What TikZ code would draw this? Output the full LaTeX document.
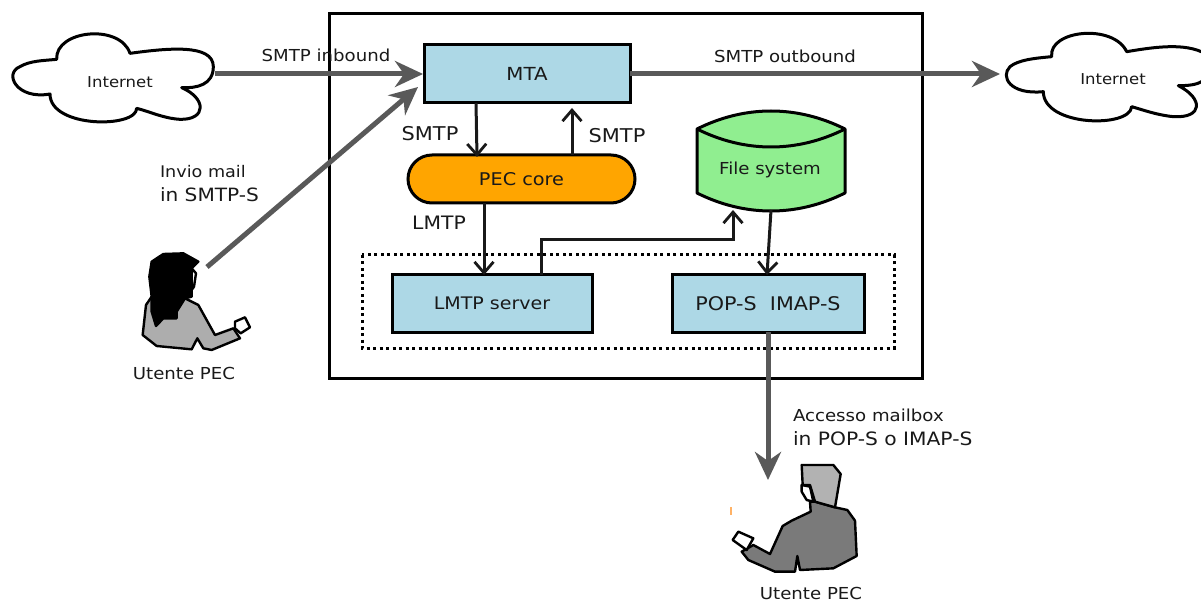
\documentclass[tikz,border=0pt]{standalone}
\usepackage{fontspec}
\setmainfont[FakeStretch=1.1]{DejaVu Sans}
\usetikzlibrary{arrows.meta,calc}
\definecolor{boxblue}{HTML}{ADD8E6}
\definecolor{coreorange}{HTML}{FFA500}
\definecolor{fsgreen}{HTML}{90EE90}
\definecolor{arrowgray}{HTML}{595959}
\newcommand{\labelsize}[1]{\fontsize{#1}{24}\selectfont}
\tikzset{
  x=1pt,y=-1pt,
  every node/.style={inner sep=0pt,outer sep=0pt,font=\fontsize{16.5}{24}\selectfont,text=black!90},
  bluebox/.style={draw=black,line width=3pt,fill=boxblue,minimum height=58,anchor=north west},
  thickflow/.style={draw=arrowgray,line width=5pt,-{Stealth[length=28pt,width=26pt,inset=9pt]}},
  thinflow/.style={draw=black!90,line width=3pt,-{Straight Barb[length=11pt,width=19pt,line width=2.8pt]}},
  outline/.style={draw=black,line width=3pt,line join=round},
  figure/.style={draw=black,line width=2.4pt,line join=round,scale=1/3}
}
\begin{document}
\begin{tikzpicture}
\useasboundingbox (0,0) rectangle (1201,601);
\fill[white] (0,0) rectangle (1201,601);
% frames
\draw[line width=3pt] (329,14) rectangle (922,378);
\draw[line width=3pt,dash pattern=on 3pt off 3.5pt] (362,255) rectangle (894,348);
% clouds
\begin{scope}[shift={(0,20)},scale=1/3]
\draw[outline,fill=white] (170,118) .. controls (165,30) and (360,10) .. (390,100)
  .. controls (500,85) and (640,70) .. (640,140) .. controls (640,195) and (590,205) .. (545,203)
  .. controls (620,235) and (620,300) .. (540,298) .. controls (490,295) and (450,275) .. (410,265)
  .. controls (410,325) and (150,325) .. (150,222) .. controls (50,240) and (10,160) .. (60,140)
  .. controls (90,122) and (130,122) .. (170,118) -- cycle;
\end{scope}
\begin{scope}[shift={(990,20)},scale=1/3]
\draw[outline,fill=white] (185,110) .. controls (175,30) and (370,10) .. (410,95)
  .. controls (500,80) and (600,65) .. (660,110) .. controls (670,190) and (620,197) .. (565,197)
  .. controls (640,235) and (640,295) .. (550,290) .. controls (500,285) and (460,270) .. (425,260)
  .. controls (420,325) and (160,320) .. (160,215) .. controls (60,225) and (30,170) .. (60,140)
  .. controls (85,120) and (130,115) .. (185,110) -- cycle;
\end{scope}
\node[minimum width=205,minimum height=92] (cloudL) at (112.5,79) {};
\node[minimum width=196,minimum height=92] (cloudR) at (1103,79) {};
\node[font=\labelsize{15}] (internetL) at (120,82) {Internet};
\node[font=\labelsize{15}] (internetR) at (1113,79) {Internet};
% main boxes
\node[bluebox,minimum width=206,font=\labelsize{18}] (mta) at (424,45) {MTA};
\node[draw=black,line width=3pt,fill=coreorange,rounded corners=24pt,minimum width=227,minimum height=48,anchor=north west,font=\labelsize{17.5}] (core) at (408,155) {PEC core};
\node[bluebox,minimum width=200,minimum height=57,font=\labelsize{17.3}] (lmtp) at (392,275) {LMTP server};
\node[bluebox,minimum width=192,minimum height=57,font=\labelsize{18.8}] (pop) at (672,275) {POP-S\ \ IMAP-S};
% file system
\draw[outline,fill=fsgreen] (697,129) .. controls (745,105) and (797,105) .. (845,129) -- (845,193)
  .. controls (797,217) and (745,217) .. (697,193) -- cycle;
\draw[outline] (697,129) .. controls (745,153) and (797,153) .. (845,129);
\node[minimum width=148,minimum height=97,anchor=north west] (fs) at (697,113) {};
\node (fslabel) at (770,170) {File system};
% user figures
\begin{scope}[shift={(120,240)}]
\draw[figure,fill=black!32] (78,195) -- (68,285) -- (110,318) -- (215,328) -- (232,295) -- (250,325) -- (275,330) -- (360,295) -- (340,265) -- (285,285) -- (235,195) -- (195,175) -- (95,170) -- cycle;
\draw[figure,fill=white] (345,245) -- (375,232) -- (390,262) -- (362,280) -- (345,265) -- cycle;
\draw[figure,fill=white] (215,85) -- (228,100) -- (222,140) -- (215,150) -- cycle;
\draw[figure,fill=black] (95,65) -- (130,42) -- (190,40) -- (235,65) -- (215,85) -- (215,170) -- (195,175) -- (170,215) -- (170,235) -- (130,235) -- (108,258) -- (95,215) -- (95,170) -- (88,110) -- cycle;
\end{scope}
\begin{scope}[shift={(720,450)}]
\draw[figure,fill=black!52] (270,155) -- (272,185) -- (215,212) -- (188,228) -- (150,312) -- (100,285) -- (65,305) -- (85,330) -- (165,365) -- (225,365) -- (232,318) -- (240,360) -- (340,355) -- (410,318) -- (405,212) -- (382,180) -- (345,172) -- (285,155) -- cycle;
\draw[figure,fill=white] (38,270) -- (55,245) -- (100,265) -- (80,300) -- cycle;
\draw[figure,fill=white] (245,105) -- (270,110) -- (280,155) -- (260,150) -- (245,125) -- cycle;
\draw[figure,fill=black!30] (245,45) -- (340,45) -- (362,72) -- (345,172) -- (285,155) -- (270,105) -- (248,105) -- cycle;
\end{scope}
\draw[orange!60,line width=1.2pt] (731,507) -- (731,515);
\node[minimum width=110,minimum height=112,anchor=north west] (userA) at (140,252) {};
\node[minimum width=125,minimum height=108,anchor=north west] (userB) at (733,465) {};
% connectors
\draw[thickflow] (cloudL.east |- mta.west) -- ([xshift=-1pt]mta.west);
\draw[thickflow] ([xshift=67pt,yshift=-15pt]userA.north west) -- ([xshift=-6pt,yshift=-13pt]mta.west);
\draw[thickflow] (mta.east) -- ([xshift=-5pt]cloudR.west |- mta.east);
\draw[thickflow] (pop.south) -- ([xshift=35pt,yshift=-15pt]userB.north west);
\draw[thinflow] ([xshift=52pt]mta.south west) -- ([xshift=69pt,yshift=-2pt]core.north west);
\draw[thinflow] ([xshift=164pt]core.north west) -- ([xshift=148pt,yshift=-5pt]mta.south west);
\draw[thinflow] ([xshift=76pt]core.south west) -- ([xshift=92pt]lmtp.north west);
\draw[thinflow] (lmtp.north) ++(49pt,0) -- ++(0,-35) -| ([xshift=36pt]fs.south west);
\draw[thinflow] ([xshift=74pt]fs.south west) -- ([xshift=95pt]pop.north west);
% labels
\node (lblin) at (326,55) {SMTP inbound};
\node (lblout) at (785,56) {SMTP outbound};
\node[font=\labelsize{19}] (lbls1) at (430,134) {SMTP};
\node[font=\labelsize{19}] (lbls2) at (617,136) {SMTP};
\node[font=\labelsize{18.5}] (lbllmtp) at (439,223) {LMTP};
\node[align=left,anchor=north west] (lblinvio) at (160,165) {\labelsize{16}Invio mail\\\labelsize{18.3}in SMTP-S};
\node[align=left,anchor=north west] (lblacc) at (793,409) {Accesso mailbox\\\labelsize{18.4}in POP-S o IMAP-S};
\node (lblua) at (184,373) {Utente PEC};
\node (lblub) at (811,593) {Utente PEC};
\end{tikzpicture}
\end{document}
